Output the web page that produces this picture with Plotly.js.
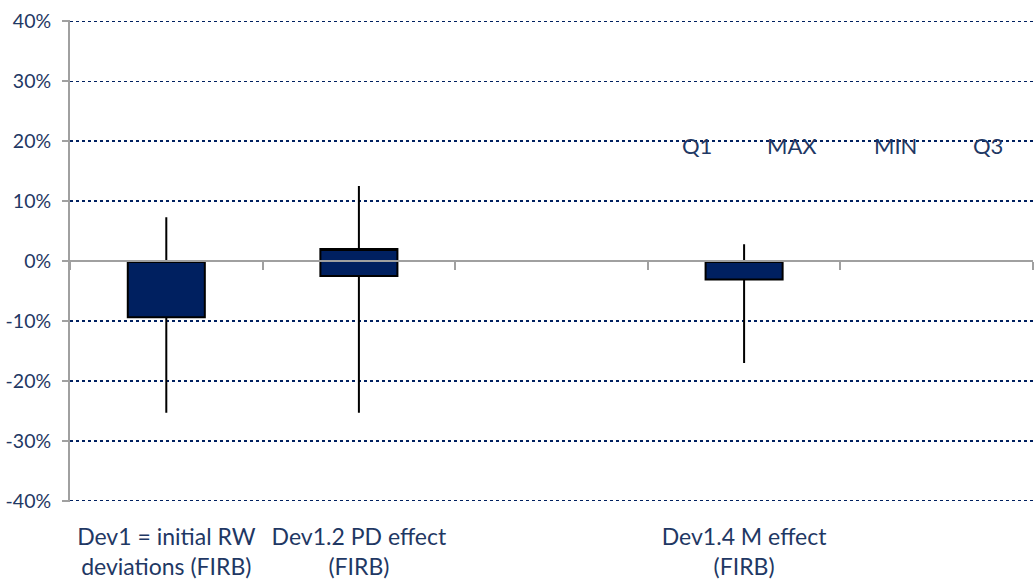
<!DOCTYPE html>
<html>
<head>
<meta charset="utf-8">
<script src="https://cdn.plot.ly/plotly-3.0.1.min.js"></script>
<style>html,body{margin:0;padding:0;background:#fff;}#chart{width:1036px;height:581px;}</style>
</head>
<body>
<div id="chart"></div>
<script>
const categories = ["Dev1 = initial RW<br>deviations (FIRB)", "Dev1.2 PD effect<br>(FIRB)", " ", "Dev1.4 M effect<br>(FIRB)", "  "];
const q1Values  = [-0.094, -0.025, null, -0.031, null];
const maxValues = [0.073, 0.125, null, 0.028, null];
const minValues = [-0.253, -0.253, null, -0.170, null];
const q3Values  = [0.0, 0.020, null, 0.0, null];
const seriesNames = ["Q1", "MAX", "MIN", "Q3"];
const yTickVals = [-0.4, -0.3, -0.2, -0.1, 0, 0.1, 0.2, 0.3, 0.4];
const yTickLabels = ["-40%", "-30%", "-20%", "-10%", "0%", "10%", "20%", "30%", "40%"];

const NAVY = '#002060';
const TEXT = '#1F3864';
const GREY = '#A0A0A0';
const FONT = 'Lato, "Open Sans", sans-serif';

const boxStyle = {line: {color: '#000000', width: 2}, fillcolor: NAVY};

const traces = [
  {
    type: 'candlestick',
    x: categories,
    open: q1Values,
    high: maxValues,
    low: minValues,
    close: q3Values,
    increasing: boxStyle,
    decreasing: boxStyle,
    whiskerwidth: 0,
    hoverinfo: 'skip',
    showlegend: false,
    xaxis: 'x',
    yaxis: 'y'
  },
  {
    type: 'scatter',
    mode: 'markers',
    x: categories,
    y: categories.map(() => null),
    xaxis: 'x2',
    yaxis: 'y',
    hoverinfo: 'skip',
    showlegend: false
  }
];

const legendX = [0.651, 0.750, 0.857, 0.953];
const annotations = seriesNames.map((n, i) => ({
  xref: 'paper', yref: 'paper', x: legendX[i], y: 0.74,
  text: n, showarrow: false, xanchor: 'center', yanchor: 'middle',
  font: {family: FONT, size: 22, color: TEXT}
}));

const layout = {
  width: 1036, height: 581,
  margin: {l: 70, r: 3, t: 20, b: 79},
  paper_bgcolor: '#ffffff', plot_bgcolor: '#ffffff',
  showlegend: false,
  boxgap: 0.6, boxgroupgap: 0,
  xaxis: {
    type: 'category', categoryorder: 'array', categoryarray: categories,
    range: [-0.5, 4.5], fixedrange: true,
    showline: false, showgrid: false, zeroline: false, ticks: '',
    tickfont: {family: FONT, size: 23, color: TEXT},
    ticklabelstandoff: 19,
    rangeslider: {visible: false}
  },
  xaxis2: {
    type: 'category', categoryorder: 'array', categoryarray: categories,
    range: [-0.5, 4.5], overlaying: 'x', anchor: 'free', position: 0.5,
    showline: true, linecolor: GREY, linewidth: 2,
    ticks: 'outside', tickson: 'boundaries', ticklen: 8, tickcolor: GREY, tickwidth: 2,
    showticklabels: false, showgrid: false, zeroline: false,
    rangeslider: {visible: false}
  },
  yaxis: {
    range: [-0.402, 0.402], fixedrange: true,
    tickvals: yTickVals, ticktext: yTickLabels,
    showline: true, linecolor: GREY, linewidth: 2,
    ticks: 'outside', ticklen: 6, tickcolor: GREY, tickwidth: 2,
    showgrid: true, gridcolor: NAVY, griddash: 'dot', gridwidth: 1.3,
    zeroline: false,
    tickfont: {family: FONT, size: 19.5, color: TEXT},
    ticklabelstandoff: 7
  },
  annotations: annotations
};

Plotly.newPlot('chart', traces, layout, {displayModeBar: false, staticPlot: true});
</script>
</body>
</html>
